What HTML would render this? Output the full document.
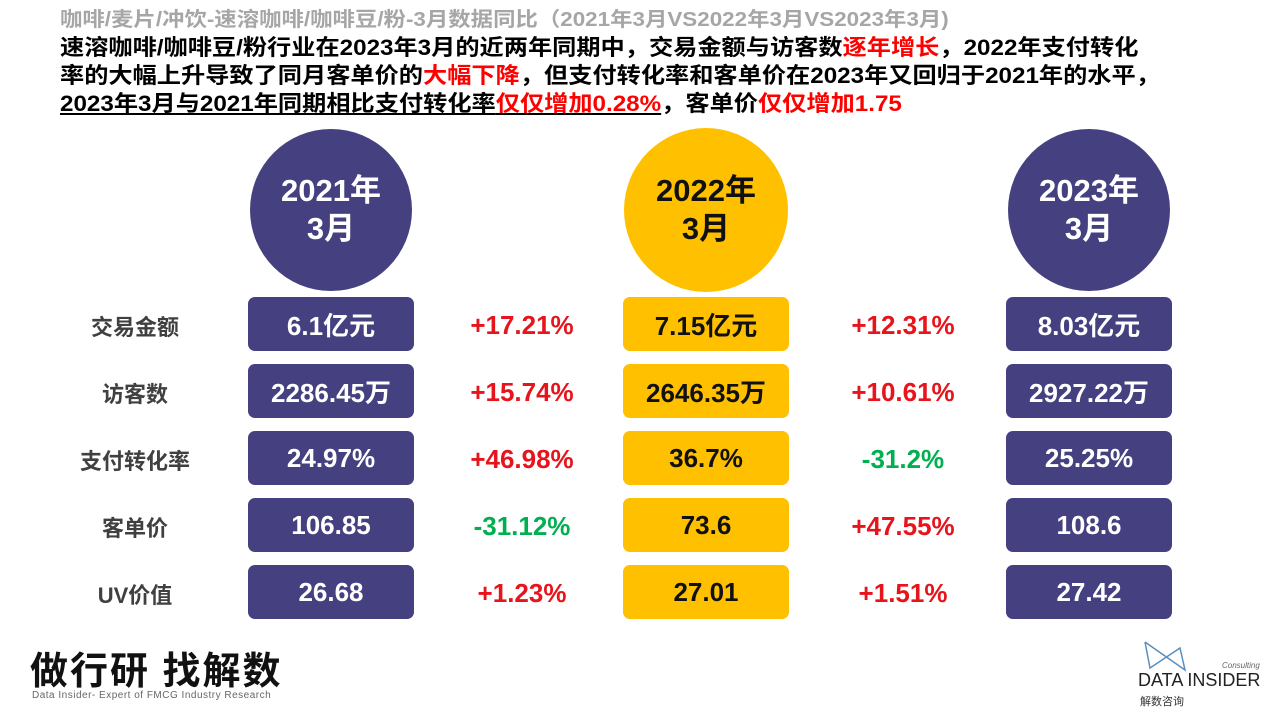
<!DOCTYPE html>
<html><head><meta charset="utf-8">
<style>
body{margin:0;width:1280px;height:720px;background:#fff;position:relative;overflow:hidden;font-family:"Liberation Sans","Noto Sans CJK SC",sans-serif;}
.abs{position:absolute;white-space:nowrap;}
.hd{left:60px;top:3px;font-size:20px;font-weight:bold;color:#a6a6a6;transform:scaleX(1.12);transform-origin:left;}
.ln{left:60px;font-size:22px;font-weight:bold;color:#000;transform:scaleX(1.1);transform-origin:left;}
.r{color:#ff0000}
.circ{position:absolute;border-radius:50%;display:flex;align-items:center;justify-content:center;text-align:center;font-weight:bold;font-size:31px;line-height:38px;}
.box{position:absolute;border-radius:7px;display:flex;align-items:center;justify-content:center;font-weight:bold;font-size:26px;}
.lab{position:absolute;width:160px;text-align:center;font-weight:bold;font-size:22px;color:#404040;}
.chg{position:absolute;width:180px;text-align:center;font-weight:bold;font-size:26px;}
</style></head><body>
<div class="abs hd">咖啡/麦片/冲饮-速溶咖啡/咖啡豆/粉-3月数据同比（2021年3月VS2022年3月VS2023年3月)</div>
<div class="abs ln" style="top:30px">速溶咖啡/咖啡豆/粉行业在2023年3月的近两年同期中，交易金额与访客数<span class="r">逐年增长</span>，2022年支付转化</div>
<div class="abs ln" style="top:58px">率的大幅上升导致了同月客单价的<span class="r">大幅下降</span>，但支付转化率和客单价在2023年又回归于2021年的水平，</div>
<div class="abs ln" style="top:86px"><span style="text-decoration:underline">2023年3月与2021年同期相比支付转化率<span class="r">仅仅增加0.28%</span></span>，客单价<span class="r">仅仅增加1.75</span></div>
<div id="root"></div>
<div class="abs" style="left:30px;top:640px;font-size:38px;font-weight:bold;letter-spacing:2px;color:#111;">做行研 找解数</div>
<div class="abs" style="left:32px;top:690px;font-size:10px;color:#666;letter-spacing:0.5px">Data Insider- Expert of FMCG Industry Research</div>
<svg class="abs" style="left:1140px;top:640px" width="50" height="35"><path d="M5 2 L10 28 L40 8 L45 30 L5 2" fill="none" stroke="#5a8fc0" stroke-width="1.5"/></svg>
<div class="abs" style="left:1222px;top:661px;font-size:8px;color:#666;font-style:italic">Consulting</div>
<div class="abs" style="left:1138px;top:670px;font-size:18px;color:#222;">DATA INSIDER</div>
<div class="abs" style="left:1140px;top:693px;font-size:11px;color:#333;">解数咨询</div>
<script>
const periods=["2021年<br>3月","2022年<br>3月","2023年<br>3月"];
const metrics=["交易金额","访客数","支付转化率","客单价","UV价值"];
const v2021=["6.1亿元","2286.45万","24.97%","106.85","26.68"];
const v2022=["7.15亿元","2646.35万","36.7%","73.6","27.01"];
const v2023=["8.03亿元","2927.22万","25.25%","108.6","27.42"];
const chg1=["+17.21%","+15.74%","+46.98%","-31.12%","+1.23%"];
const chg2=["+12.31%","+10.61%","-31.2%","+47.55%","+1.51%"];
const root=document.getElementById('root');
const colX=[331,706,1089];
const colBg=["#45407f","#ffc000","#45407f"];
const colFg=["#fff","#111","#fff"];
const vals=[v2021,v2022,v2023];
const chgX=[522,903];
const chgs=[chg1,chg2];
function rowY(i){return 297+i*67;}
periods.forEach((p,c)=>{
  const d=document.createElement('div');
  
  
  d.className='circ';
  const r=c===1?82:81;
  d.style.cssText=`left:${colX[c]-r}px;top:${210-r}px;width:${2*r}px;height:${2*r}px;background:${colBg[c]};color:${colFg[c]}`;
  d.innerHTML=p;root.appendChild(d);
});
metrics.forEach((m,i)=>{
  const l=document.createElement('div');
  
  
  l.className='lab';l.style.left='55px';l.style.top=(rowY(i)+13)+'px';l.textContent=m;root.appendChild(l);
  vals.forEach((arr,c)=>{
    const b=document.createElement('div');
    
    
    b.className='box';
    b.style.cssText=`left:${colX[c]-83}px;top:${rowY(i)}px;width:166px;height:54px;background:${colBg[c]};color:${colFg[c]}`;
    b.textContent=arr[i];root.appendChild(b);
  });
  chgs.forEach((arr,k)=>{
    const t=document.createElement('div');
    
    
    t.className='chg';
    t.style.left=(chgX[k]-90)+'px';t.style.top=(rowY(i)+13)+'px';
    t.style.color=arr[i].startsWith('-')?'#00b050':'#e8141c';
    t.textContent=arr[i];root.appendChild(t);
  });
});
</script>
</body></html>
